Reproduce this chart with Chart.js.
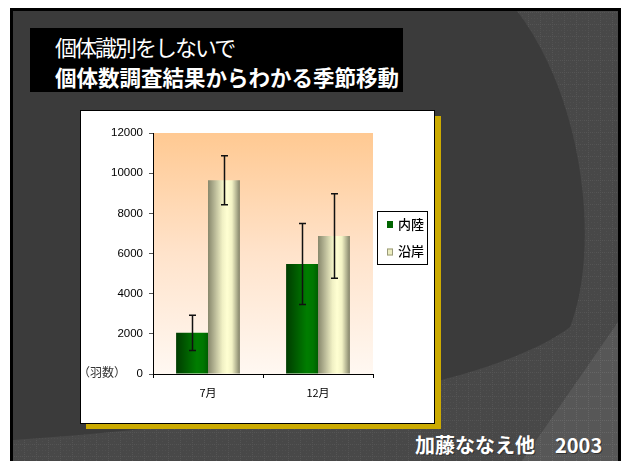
<!DOCTYPE html>
<html>
<head>
<meta charset="utf-8">
<script src="https://cdn.jsdelivr.net/npm/chart.js@4"></script>
<style>
  html,body{margin:0;padding:0;background:#fff;}
  body{width:624px;height:461px;position:relative;overflow:hidden;font-family:"Noto Sans CJK JP","Noto Sans",sans-serif;}
  #bg{position:absolute;left:0;top:0;}
  #titlebox{position:absolute;left:30px;top:28px;width:373px;height:64px;background:#000;}
  .t{position:absolute;color:#fff;white-space:nowrap;}
  #t1{left:25px;top:6px;font-size:22px;line-height:24px;font-weight:400;letter-spacing:-2px;}
  #t2{left:25px;top:37px;font-size:21.5px;line-height:24px;font-weight:700;letter-spacing:0px;}
  #shadow{position:absolute;left:86px;top:116px;width:355px;height:313px;background:#cbaa00;}
  #box{position:absolute;left:80px;top:110px;width:355px;height:314px;box-sizing:border-box;border:1px solid #000;background:#fff;}
  #wrap{position:absolute;left:0;top:0;width:353px;height:312px;}
  #footer{position:absolute;left:415px;top:432px;font-size:20px;line-height:26px;font-weight:700;color:#fff;white-space:nowrap;text-shadow:1px 1px 0 #333;}
</style>
</head>
<body>
<svg id="bg" width="624" height="461" xmlns="http://www.w3.org/2000/svg">
  <defs>
    <pattern id="tex" width="12" height="12" patternUnits="userSpaceOnUse">
      <rect width="12" height="12" fill="#484848"/>
      <path d="M0 0.5 H12 M0.5 0 V12" stroke="#555" stroke-width="1" stroke-dasharray="1 1"/>
      <path d="M0 6.5 H12 M6.5 0 V12" stroke="#4f4f4f" stroke-width="1" stroke-dasharray="1 2"/>
    </pattern>
    <pattern id="tex2" width="12" height="12" patternUnits="userSpaceOnUse">
      <rect width="12" height="12" fill="#575757"/>
      <path d="M0 0.5 H12 M0.5 0 V12" stroke="#666" stroke-width="1" stroke-dasharray="1 1"/>
    </pattern>
  </defs>
  <rect x="10" y="8" width="611" height="470" fill="#000"/>
  <rect x="13" y="11" width="605" height="470" fill="url(#tex)"/>
  <polygon points="522,461 618,322 618,461" fill="url(#tex2)"/>
  <path d="M13 11 L517 11 C585 100 600 250 570 327 C500 380 300 420 13 440 Z" fill="#3b3b3b"/>
</svg>

<div id="titlebox">
  <div class="t" id="t1">個体識別をしないで</div>
  <div class="t" id="t2">個体数調査結果からわかる季節移動</div>
</div>

<div id="shadow"></div>
<div id="box"><div id="wrap"><canvas id="c" width="353" height="312"></canvas></div></div>

<div id="footer">加藤ななえ他　2003</div>

<script>
// ---- data ----
const categories = ['7月', '12月'];
const seriesNames = ['内陸', '沿岸'];
const inland = [2050, 5480];
const coastal = [9650, 6870];
const inlandErr = [880, 2020];
const coastalErr = [1220, 2100];
const yTicks = [0, 2000, 4000, 6000, 8000, 10000, 12000];
const yUnitLabel = '（羽数）';

const CAT_PCT = 0.58;

function barGradient(dsIndex, stops) {
  return function(ctx) {
    const chart = ctx.chart;
    const xs = chart.scales && chart.scales.x;
    if (!chart.chartArea || !xs || ctx.type !== 'data') return stops[Math.floor(stops.length/2)][1];
    const center = xs.getPixelForValue(ctx.dataIndex);
    const catW = xs.width / categories.length;
    const bw = catW * CAT_PCT / 2;
    const left = dsIndex === 0 ? center - bw : center;
    const g = chart.ctx.createLinearGradient(left, 0, left + bw, 0);
    stops.forEach(s => g.addColorStop(s[0], s[1]));
    return g;
  };
}

const greenStops = [[0,'#003c00'],[0.2,'#005000'],[0.65,'#007d00'],[0.85,'#007600'],[1,'#005e00']];
const beigeStops = [[0,'#87876b'],[0.2,'#b5b594'],[0.45,'#f0f0c4'],[0.6,'#ffffd2'],[0.75,'#f3f3c5'],[0.9,'#b0b08f'],[1,'#828267']];
const legendColors = ['#006400', '#ecedc0'];

const bgPlugin = {
  id: 'plotBg',
  beforeDraw(chart) {
    const {ctx, chartArea: a} = chart;
    const g = ctx.createLinearGradient(0, a.top, 0, a.bottom);
    g.addColorStop(0, '#ffc992');
    g.addColorStop(0.5, '#ffe3cb');
    g.addColorStop(1, '#fff8f2');
    ctx.save();
    ctx.fillStyle = g;
    ctx.fillRect(a.left, a.top, a.right - a.left, a.bottom - a.top);
    ctx.restore();
  }
};

const errPlugin = {
  id: 'errBars',
  afterDatasetsDraw(chart) {
    const ctx = chart.ctx;
    const ys = chart.scales.y;
    const errs = [inlandErr, coastalErr];
    ctx.save();
    ctx.strokeStyle = '#111';
    ctx.lineWidth = 1.5;
    chart.data.datasets.forEach((ds, di) => {
      const meta = chart.getDatasetMeta(di);
      meta.data.forEach((bar, i) => {
        const v = ds.data[i], e = errs[di][i];
        const x = Math.round(bar.x) + 0.5;
        const yt = ys.getPixelForValue(v + e), yb = ys.getPixelForValue(v - e);
        ctx.beginPath();
        ctx.moveTo(x, yt); ctx.lineTo(x, yb);
        ctx.moveTo(x - 3.5, yt); ctx.lineTo(x + 3.5, yt);
        ctx.moveTo(x - 3.5, yb); ctx.lineTo(x + 3.5, yb);
        ctx.stroke();
      });
    });
    ctx.restore();
  }
};

const legendPlugin = {
  id: 'boxLegend',
  afterDraw(chart) {
    const ctx = chart.ctx;
    const a = chart.chartArea;
    const lx = a.right + 4, ly = 100, lw = 51, lh = 54;
    ctx.save();
    ctx.fillStyle = '#fff';
    ctx.fillRect(lx, ly, lw, lh);
    ctx.strokeStyle = '#000';
    ctx.lineWidth = 1;
    ctx.strokeRect(lx + 0.5, ly + 0.5, lw - 1, lh - 1);
    ctx.font = '500 13px "Noto Sans CJK JP"';
    ctx.textBaseline = 'middle';
    chart.data.datasets.forEach((ds, i) => {
      const cy = ly + 13 + i * 27.5;
      ctx.fillStyle = legendColors[i];
      ctx.fillRect(lx + 10, cy - 3, 6, 7);
      if (i === 1) { ctx.strokeStyle = '#9a9a7a'; ctx.strokeRect(lx + 10.5, cy - 2.5, 5, 6); }
      ctx.fillStyle = '#000';
      ctx.fillText(ds.label, lx + 21, cy);
    });
    // unit label
    ctx.font = '12px "Noto Sans CJK JP"';
    ctx.fillStyle = '#333';
    ctx.textBaseline = 'middle';
    ctx.textAlign = 'left';
    ctx.fillText(yUnitLabel, -3, a.bottom - 2);
    ctx.restore();
  }
};

new Chart(document.getElementById('c'), {
  type: 'bar',
  data: {
    labels: categories,
    datasets: [
      { label: seriesNames[0], data: inland, backgroundColor: barGradient(0, greenStops), borderWidth: 0 },
      { label: seriesNames[1], data: coastal, backgroundColor: barGradient(1, beigeStops), borderWidth: 0 }
    ]
  },
  options: {
    responsive: false,
    animation: false,
    devicePixelRatio: 1,
    layout: { padding: { left: 0, top: 22, right: 61, bottom: 19 } },
    datasets: { bar: { categoryPercentage: CAT_PCT, barPercentage: 1.0 } },
    plugins: { legend: { display: false }, tooltip: { enabled: false } },
    scales: {
      x: {
        afterFit(s) { s.height = 30; },
        grid: { display: true, drawOnChartArea: false, drawTicks: true, tickLength: 4, color: '#000', offset: true },
        border: { display: true, color: '#000', width: 1 },
        ticks: { color: '#000', padding: 8, font: { family: '"Noto Sans CJK JP"', size: 11 } }
      },
      y: {
        min: 0, max: 12000,
        afterFit(s) { s.width = 72; },
        afterBuildTicks(s) { s.ticks = yTicks.map(v => ({ value: v })); },
        grid: { display: true, drawOnChartArea: false, drawTicks: true, tickLength: 4, color: '#555' },
        border: { display: true, color: '#000', width: 1 },
        ticks: { color: '#000', padding: 6, font: { family: '"Liberation Sans", Arial', size: 11.5 },
                 callback: v => String(v) }
      }
    }
  },
  plugins: [bgPlugin, errPlugin, legendPlugin]
});
</script>
</body>
</html>
